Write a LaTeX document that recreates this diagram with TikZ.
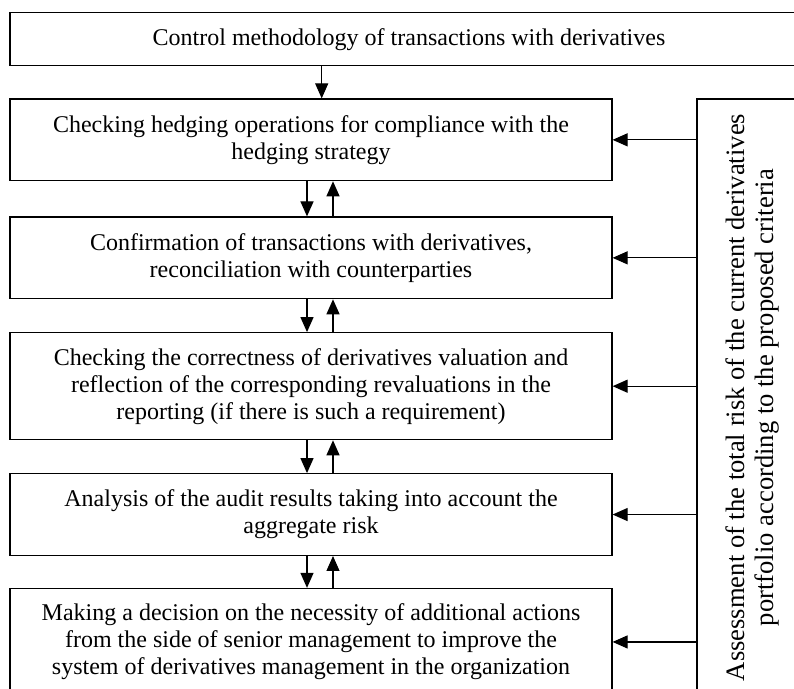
\documentclass[tikz,border=0pt]{standalone}
\usepackage{fontspec}
\setmainfont{Liberation Serif}
\usetikzlibrary{arrows.meta,calc}

\begin{document}
\begin{tikzpicture}[x=0.5pt,y=-0.5pt,line width=0.6pt,
  >={Triangle[length=7.5pt,width=6.5pt]},
  box/.style={draw,align=center,inner sep=0pt,font=\fontsize{12}{13.5}\selectfont},
  colbox/.style={box,minimum width=301pt,minimum height=40.85pt},
  tallbox/.style={colbox,minimum height=53.5pt}]
\useasboundingbox (0,0) rectangle (794,689);
\clip (0,0) rectangle (794,689);

\node[box,minimum width=399pt,minimum height=26.5pt] (ctrl) at (409,39.2) {Control methodology of transactions with derivatives};
\node[colbox] (hedge) at (311,139.85) {Checking hedging operations for compliance with the\\hedging strategy};
\node[colbox] (confirm) at (311,257.85) {Confirmation of transactions with derivatives,\\reconciliation with counterparties};
\node[tallbox] (valuation) at (311,386.2) {Checking the correctness of derivatives valuation and\\reflection of the corresponding revaluations in the\\reporting (if there is such a requirement)};
\node[colbox] (analysis) at (311,514.55) {Analysis of the audit results taking into account the\\aggregate risk};
\node[tallbox] (decision) at (311,641.95) {Making a decision on the necessity of additional actions\\from the side of senior management to improve the\\system of derivatives management in the organization};
\node[box,rotate=90,minimum width=298.5pt,minimum height=55.5pt,font=\fontsize{13.3}{14.5}\selectfont] (assess) at (752.5,397.5) {Assessment of the total risk of the current derivatives\\portfolio according to the proposed criteria};

\draw[->] ($(ctrl.south -| hedge.north)+(5.35pt,0)$) -- ($(hedge.north)+(5.35pt,0)$);
\foreach \a/\b in {hedge/confirm,confirm/valuation,valuation/analysis,analysis/decision}{
  \draw[->] ($(\a.south)+(-2pt,0)$) -- ($(\b.north)+(-2pt,0)$);
  \draw[->] ($(\b.north)+(11pt,0)$) -- ($(\a.south)+(11pt,0)$);
}
\foreach \b in {hedge,confirm,valuation,analysis,decision}
  \draw[->] (assess.north |- \b.east) -- (\b.east);

\end{tikzpicture}
\end{document}
